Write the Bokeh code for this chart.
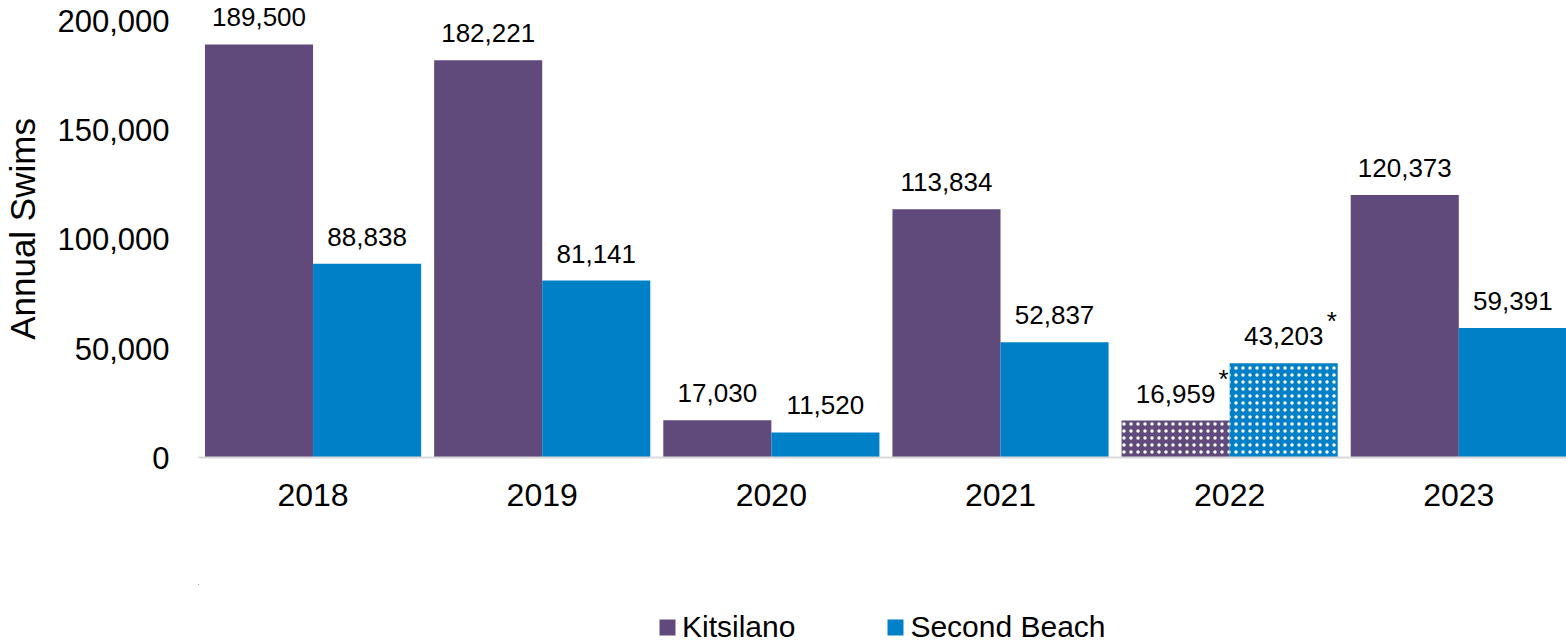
from bokeh.plotting import figure
from bokeh.models import (ColumnDataSource, Range1d, FixedTicker, NumeralTickFormatter,
                          Legend, LegendItem)
from bokeh.layouts import column
from bokeh.core.properties import value
from bokeh.embed import file_html
from bokeh.resources import INLINE

# ---- data ----
years = ["2018", "2019", "2020", "2021", "2022", "2023"]
kitsilano = [189500, 182221, 17030, 113834, 16959, 120373]
second_beach = [88838, 81141, 11520, 52837, 43203, 59391]
partial_years = ["2022"]          # years marked with * (partial data)
y_ticks = [0, 50000, 100000, 150000, 200000]
series_names = ["Kitsilano", "Second Beach"]

FONT = "Liberation Sans"
PURPLE = "#604A7B"
BLUE = "#0080C6"

idx = list(range(len(years)))
bar_w = 0.4716
hatch = ["dot" if y in partial_years else " " for y in years]
star = ["*" if y in partial_years else "" for y in years]

def fmt(v):
    return f"{v:,}"

src_k = ColumnDataSource(dict(x=[i - bar_w / 2 for i in idx], top=kitsilano,
                              label=[fmt(v) for v in kitsilano], hatch=hatch, star=star))
src_s = ColumnDataSource(dict(x=[i + bar_w / 2 for i in idx], top=second_beach,
                              label=[fmt(v) for v in second_beach], hatch=hatch, star=star))

p = figure(width=1566, height=584, output_backend="svg", toolbar_location=None,
           x_range=Range1d(-0.5, 5.47), y_range=Range1d(0, 209633),
           min_border_left=198, min_border_right=0, min_border_top=0,
           min_border_bottom=127)
p.outline_line_color = None
p.xgrid.visible = False
p.ygrid.visible = False
p.background_fill_color = "white"
p.border_fill_color = "white"

r1 = p.vbar(x="x", top="top", width=bar_w, source=src_k, fill_color=PURPLE, line_color=None,
            hatch_pattern="hatch", hatch_color="white", hatch_scale=7, hatch_weight=2.5)
r2 = p.vbar(x="x", top="top", width=bar_w, source=src_s, fill_color=BLUE, line_color=None,
            hatch_pattern="hatch", hatch_color="white", hatch_scale=7, hatch_weight=2.5)

for src in (src_k, src_s):
    p.text(x="x", y="top", text="label", source=src, text_align="center",
           text_baseline="bottom", y_offset=-18, text_font=value(FONT),
           text_font_size="26px", text_color="black")
    p.text(x="x", y="top", text="star", source=src, text_align="left",
           text_baseline="bottom", x_offset=43, y_offset=-27, text_font=value(FONT),
           text_font_size="26px", text_color="black")

# y axis
yax = p.yaxis[0]
yax.ticker = FixedTicker(ticks=y_ticks)
yax.formatter = NumeralTickFormatter(format="0,0")
yax.axis_line_color = None
yax.major_tick_line_color = None
yax.minor_tick_line_color = None
yax.major_label_standoff = 23
yax.major_label_text_font = FONT
yax.major_label_text_font_size = "31px"
yax.major_label_text_color = "black"
yax.axis_label = "Annual Swims"
yax.axis_label_text_font = FONT
yax.axis_label_text_font_size = "35px"
yax.axis_label_text_font_style = "normal"
yax.axis_label_text_color = "black"
yax.axis_label_standoff = 12

# x axis
xax = p.xaxis[0]
xax.ticker = FixedTicker(ticks=idx)
xax.major_label_overrides = {i: y for i, y in zip(idx, years)}
xax.axis_line_color = "#D9D9D9"
xax.axis_line_width = 2
xax.major_tick_line_color = None
xax.minor_tick_line_color = None
xax.major_label_standoff = 20
xax.major_label_text_font = FONT
xax.major_label_text_font_size = "32px"
xax.major_label_text_color = "black"

# ---- legend strip (separate small figure below the chart) ----
pl = figure(width=1566, height=60, output_backend="svg", toolbar_location=None,
            x_range=Range1d(100, 101), y_range=Range1d(-2, -1),
            x_axis_location=None, y_axis_location=None,
            min_border_left=0, min_border_right=0, min_border_top=0, min_border_bottom=0)
pl.outline_line_color = None
pl.xgrid.visible = False
pl.ygrid.visible = False
# zero-size bars from the same data, outside this strip's ranges: only legend swatches show
lk = pl.vbar(x="x", top="top", bottom="top", width=0, source=src_k,
             fill_color=PURPLE, line_color=None)
ls = pl.vbar(x="x", top="top", bottom="top", width=0, source=src_s,
             fill_color=BLUE, line_color=None)

legend = Legend(items=[LegendItem(label=series_names[0], renderers=[lk]),
                       LegendItem(label=series_names[1], renderers=[ls])],
                orientation="horizontal", location=(459, 0),
                label_text_font=FONT, label_text_font_size="30px", label_text_color="black",
                glyph_width=20, glyph_height=20, label_standoff=5, spacing=90,
                padding=0, margin=0, border_line_color=None, background_fill_alpha=0)
pl.add_layout(legend, "center")

layout = column(p, pl, spacing=0)
open("out.html", "w").write(file_html(layout, INLINE))
